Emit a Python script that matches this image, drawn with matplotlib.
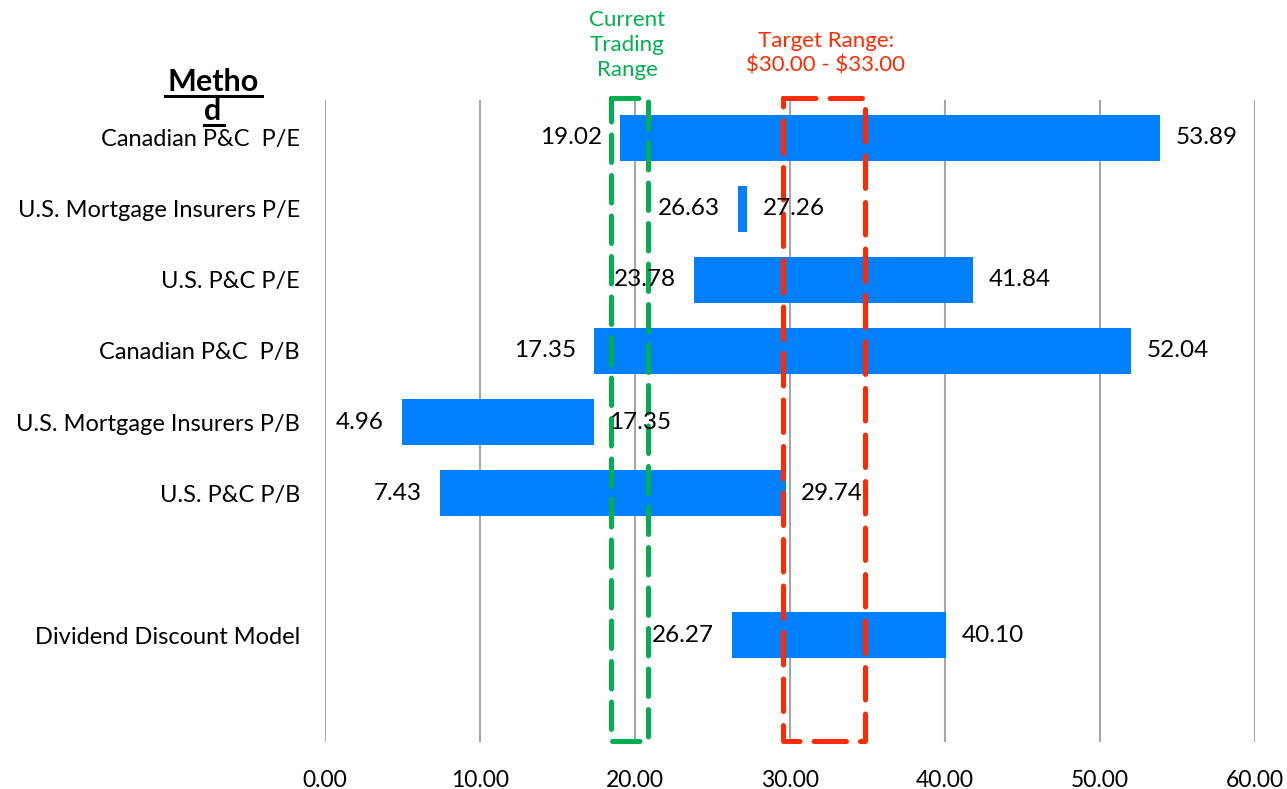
import matplotlib.pyplot as plt
from matplotlib.patches import Rectangle

plt.rcParams['font.family'] = ['Lato', 'DejaVu Sans']

methods = [
    "Canadian P&C  P/E",
    "U.S. Mortgage Insurers P/E",
    "U.S. P&C P/E",
    "Canadian P&C  P/B",
    "U.S. Mortgage Insurers P/B",
    "U.S. P&C P/B",
    "Dividend Discount Model",
]
rows = [0, 1, 2, 3, 4, 5, 7]
low = [19.02, 26.63, 23.78, 17.35, 4.96, 7.43, 26.27]
high = [53.89, 27.26, 41.84, 52.04, 17.35, 29.74, 40.10]

trading_range = (18.45, 20.85)
target_range = (29.55, 34.85)
xticks = [0, 10, 20, 30, 40, 50, 60]

BLUE = "#0080FF"
GREEN = "#00B050"
RED = "#FF2A00"

fig = plt.figure(figsize=(12.87, 7.89), dpi=100)
ax = fig.add_axes([0.2525, 0.0596, 0.7225, 0.8137])

ax.barh(rows, [h - l for l, h in zip(low, high)], left=low, height=0.65,
        color=BLUE, zorder=2)

for r, l, h in zip(rows, low, high):
    ax.annotate(f"{l:.2f}", (l, r), xytext=(-13, 0), textcoords="offset points",
                ha="right", va="center", fontsize=17.5, zorder=4)
    ax.annotate(f"{h:.2f}", (h, r), xytext=(11, 0), textcoords="offset points",
                ha="left", va="center", fontsize=17.5, zorder=4)

ax.set_xlim(0, 60)
ax.set_ylim(8.5, -0.53)
ax.set_xticks(xticks)
ax.set_xticklabels([f"{t:.2f}" for t in xticks], fontsize=16.5)
ax.set_yticks(rows)
ax.set_yticklabels(methods, fontsize=17)
ax.tick_params(axis="x", length=0, pad=20)
ax.tick_params(axis="y", length=0, pad=18)
ax.grid(axis="x", color="#A6A6A6", linewidth=1.5, zorder=1)
ax.set_axisbelow(True)
for s in ax.spines.values():
    s.set_visible(False)

# dashed range boxes
y0, y1 = ax.get_ylim()
for (a, b), col, dash in [(trading_range, GREEN, (5.5, 2.6)), (target_range, RED, (6.5, 2.8))]:
    box = Rectangle((a, y1 - 0.03), b - a, y0 - y1 + 0.02, fill=False,
                    edgecolor=col, linewidth=3.6, linestyle=(0, dash),
                    joinstyle="round", capstyle="round", zorder=3, clip_on=False)
    ax.add_patch(box)

fig.text(627 / 1287, 1 - 45 / 789, "Current\nTrading\nRange", color=GREEN,
         ha="center", va="center", fontsize=16, linespacing=1.3)
fig.text(826 / 1287, 1 - 53 / 789, "Target Range:\n\\$30.00 - \\$33.00",
         color=RED, ha="center", va="center", fontsize=16, linespacing=1.3)

fig.text(213 / 1287, 1 - 82 / 789, "Metho", ha="center", va="center",
         fontsize=22, fontweight="bold")
fig.text(213 / 1287, 1 - 111 / 789, "d", ha="center", va="center",
         fontsize=22, fontweight="bold")
fig.add_artist(plt.Line2D([165 / 1287, 262 / 1287], [1 - 96 / 789] * 2,
                          color="black", linewidth=2.2))
fig.add_artist(plt.Line2D([204 / 1287, 224 / 1287], [1 - 125 / 789] * 2,
                          color="black", linewidth=2.2))

fig.savefig("out.png", dpi=100, facecolor="white")
